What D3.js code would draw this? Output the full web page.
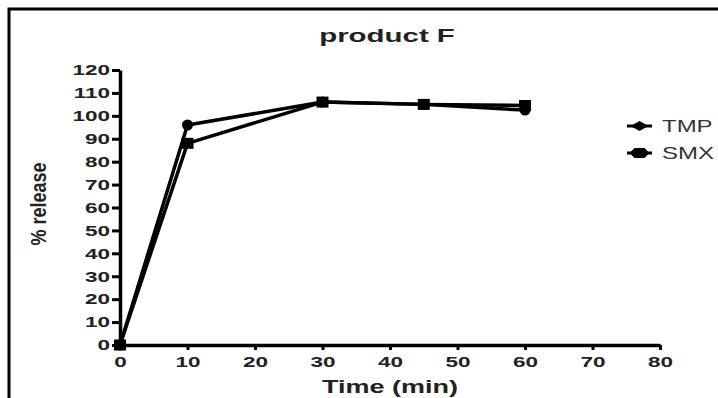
<!DOCTYPE html>
<html><head><meta charset="utf-8">
<script src="https://cdn.jsdelivr.net/npm/d3@7"></script>
<style>
html,body{margin:0;padding:0;background:#fff;}
text{font-family:"Liberation Sans",Arial,sans-serif;}
</style></head>
<body>
<svg id="c" width="718" height="398"></svg>
<script>
const times = [0, 10, 30, 45, 60];
const tmpValues = [0, 96, 106, 105, 102.5];
const smxValues = [0, 88, 106, 105, 104.5];
const seriesNames = ["TMP", "SMX"];
const xTicks = [0, 10, 20, 30, 40, 50, 60, 70, 80];
const yTicks = [0, 10, 20, 30, 40, 50, 60, 70, 80, 90, 100, 110, 120];
const titleText = "product F";
const xLabel = "Time (min)";
const yLabel = "% release";

const SX = 1.5;
const svg = d3.select("#c");
svg.append("rect").attr("x",9).attr("y",9).attr("width",730).attr("height",420)
  .attr("fill","none").attr("stroke","#000").attr("stroke-width",3);

const x = d3.scaleLinear().domain([0,80]).range([120,660]);
const y = d3.scaleLinear().domain([0,120]).range([345,70]);

const gx = svg.append("g").attr("transform","translate(0,345)")
  .call(d3.axisBottom(x).tickValues(xTicks).tickSize(5).tickSizeOuter(0).tickPadding(6));
const gy = svg.append("g").attr("transform","translate(120,0)")
  .call(d3.axisLeft(y).tickValues(yTicks).tickSize(8).tickSizeOuter(0).tickPadding(2));
[gx,gy].forEach(g=>{
  g.select(".domain").attr("stroke","#000").attr("stroke-width",3.5);
  g.selectAll(".tick line").attr("stroke","#000").attr("stroke-width",3);
  g.selectAll(".tick text").attr("fill","#222").attr("font-size",15).attr("font-weight","bold");
});
gx.selectAll(".tick text").attr("dy","0.71em").attr("transform",`scale(${SX},1)`);
gy.selectAll(".tick text").attr("x",-10/SX).attr("transform",`scale(${SX},1)`);

const line = d3.line().x((d,i)=>x(times[i])).y(d=>y(d));
const plot = svg.append("g");
[tmpValues, smxValues].forEach(vals=>{
  plot.append("path").datum(vals).attr("d",line).attr("fill","none")
    .attr("stroke","#000").attr("stroke-width",3.5).attr("stroke-linejoin","round");
});
plot.selectAll("circle.tmp").data(tmpValues).join("circle")
  .attr("cx",(d,i)=>x(times[i])).attr("cy",d=>y(d)).attr("r",5.5).attr("fill","#000");
plot.selectAll("rect.smx").data(smxValues).join("rect")
  .attr("x",(d,i)=>x(times[i])-6).attr("y",d=>y(d)-5.5).attr("width",12).attr("height",11).attr("fill","#000");

svg.append("text").attr("transform",`translate(387,42) scale(1.55,1)`)
  .attr("text-anchor","middle").attr("font-size",19).attr("font-weight","bold").attr("fill","#222").text(titleText);
svg.append("text").attr("transform",`translate(390,393) scale(1.5,1)`)
  .attr("text-anchor","middle").attr("font-size",18).attr("font-weight","bold").attr("fill","#222").text(xLabel);
svg.append("text").attr("transform",`translate(46,204) scale(1.2,1) rotate(-90)`)
  .attr("text-anchor","middle").attr("font-size",18).attr("font-weight","bold").attr("fill","#222").text(yLabel);

const leg = svg.append("g");
seriesNames.forEach((name,i)=>{
  const cy = 126 + i*27;
  leg.append("line").attr("x1",627).attr("x2",652).attr("y1",cy).attr("y2",cy).attr("stroke","#000").attr("stroke-width",3);
  if(i===0){
    leg.append("path").attr("d",`M${639.5-9},${cy} L${639.5},${cy-5} L${639.5+9},${cy} L${639.5},${cy+5} Z`).attr("fill","#000");
  } else {
    leg.append("path").attr("d",`M${639.5-10},${cy} L${639.5-5},${cy-5} L${639.5+5},${cy-5} L${639.5+10},${cy} L${639.5+5},${cy+5} L${639.5-5},${cy+5} Z`).attr("fill","#000");
  }
  leg.append("text").attr("transform",`translate(662,${cy+6}) scale(1.5,1)`)
    .attr("font-size",16).attr("fill","#333").text(name);
});
</script>
</body></html>
